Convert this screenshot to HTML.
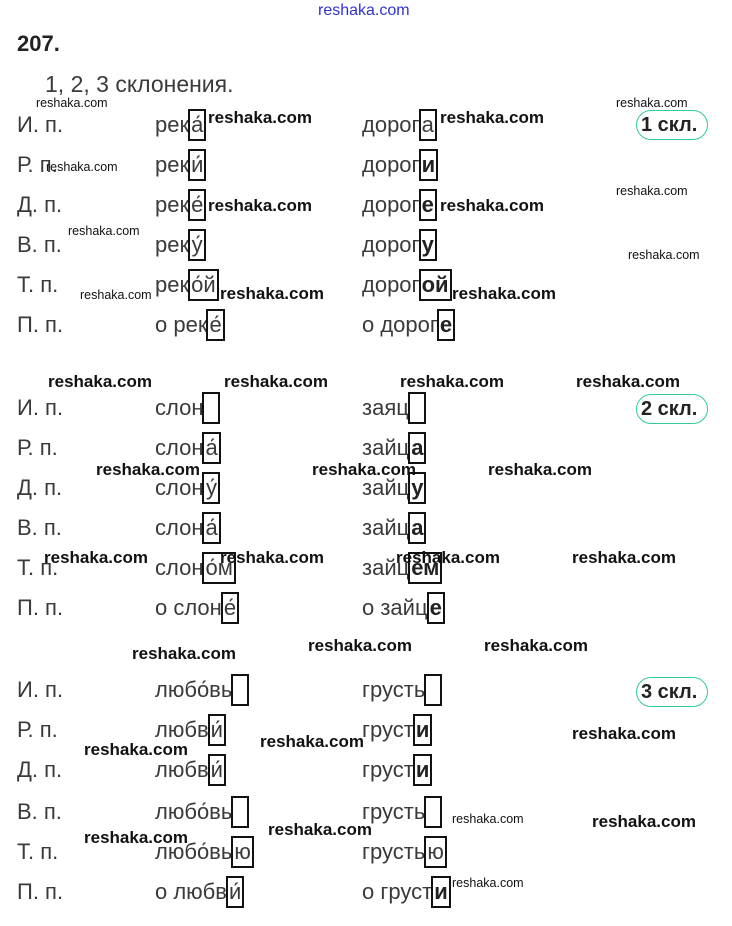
<!DOCTYPE html>
<html><head><meta charset="utf-8"><style>
body{margin:0;width:732px;height:926px;background:#fff;position:relative;overflow:hidden;font-family:"Liberation Sans",sans-serif;}
.a{position:absolute;white-space:nowrap}
.r{position:absolute;height:32px;line-height:32px;font-size:22px;color:#3a3a3a;white-space:nowrap}
.b{display:inline-block;border:2px solid #111;height:28px;line-height:28px;min-width:12px;text-align:center;vertical-align:top;margin-left:-1px;padding:0 1px;color:#3a3a3a}
.k{font-weight:bold;color:#222}
.w{position:absolute;font-weight:bold;font-size:17px;color:#111;white-space:nowrap;line-height:20px}
.s{position:absolute;font-size:12.5px;color:#111;white-space:nowrap;line-height:16px}
.badge{position:absolute;border:1.5px solid #3c9;border-radius:16px;font-weight:bold;font-size:20px;color:#222;line-height:28px;height:28px;padding:0 10px 0 4px}
</style></head><body>
<div class="a" style="left:318px;top:2px;font-size:16px;color:#33c">reshaka.com</div>
<div class="a" style="left:17px;top:31px;font-size:22px;font-weight:bold;color:#222">207.</div>
<div class="a" style="left:45px;top:71px;font-size:23px;color:#3a3a3a">1, 2, 3 склонения.</div>

<!-- block 1 -->
<div class="r" style="left:17px;top:109px">И. п.</div>
<div class="r" style="left:155px;top:109px">рек<span class="b">а́</span></div>
<div class="r" style="left:362px;top:109px">дорог<span class="b">а</span></div>
<div class="r" style="left:17px;top:149px">Р. п.</div>
<div class="r" style="left:155px;top:149px">рек<span class="b">и́</span></div>
<div class="r" style="left:362px;top:149px">дорог<span class="b k">и</span></div>
<div class="r" style="left:17px;top:189px">Д. п.</div>
<div class="r" style="left:155px;top:189px">рек<span class="b">е́</span></div>
<div class="r" style="left:362px;top:189px">дорог<span class="b k">е</span></div>
<div class="r" style="left:17px;top:229px">В. п.</div>
<div class="r" style="left:155px;top:229px">рек<span class="b">у́</span></div>
<div class="r" style="left:362px;top:229px">дорог<span class="b k">у</span></div>
<div class="r" style="left:17px;top:269px">Т. п.</div>
<div class="r" style="left:155px;top:269px">рек<span class="b">о́й</span></div>
<div class="r" style="left:362px;top:269px">дорог<span class="b k">ой</span></div>
<div class="r" style="left:17px;top:309px">П. п.</div>
<div class="r" style="left:155px;top:309px">о рек<span class="b">е́</span></div>
<div class="r" style="left:362px;top:309px">о дорог<span class="b k">е</span></div>
<div class="badge" style="left:636px;top:110px">1 скл.</div>

<!-- block 2 -->
<div class="r" style="left:17px;top:392px">И. п.</div>
<div class="r" style="left:155px;top:392px">слон<span class="b">&nbsp;</span></div>
<div class="r" style="left:362px;top:392px">заяц<span class="b">&nbsp;</span></div>
<div class="r" style="left:17px;top:432px">Р. п.</div>
<div class="r" style="left:155px;top:432px">слон<span class="b">а́</span></div>
<div class="r" style="left:362px;top:432px">зайц<span class="b k">а</span></div>
<div class="r" style="left:17px;top:472px">Д. п.</div>
<div class="r" style="left:155px;top:472px">слон<span class="b">у́</span></div>
<div class="r" style="left:362px;top:472px">зайц<span class="b k">у</span></div>
<div class="r" style="left:17px;top:512px">В. п.</div>
<div class="r" style="left:155px;top:512px">слон<span class="b">а́</span></div>
<div class="r" style="left:362px;top:512px">зайц<span class="b k">а</span></div>
<div class="r" style="left:17px;top:552px">Т. п.</div>
<div class="r" style="left:155px;top:552px">слон<span class="b">о́м</span></div>
<div class="r" style="left:362px;top:552px">зайц<span class="b k">ем</span></div>
<div class="r" style="left:17px;top:592px">П. п.</div>
<div class="r" style="left:155px;top:592px">о слон<span class="b">е́</span></div>
<div class="r" style="left:362px;top:592px">о зайц<span class="b k">е</span></div>
<div class="badge" style="left:636px;top:394px">2 скл.</div>

<!-- block 3 -->
<div class="r" style="left:17px;top:674px">И. п.</div>
<div class="r" style="left:155px;top:674px">любо́вь<span class="b">&nbsp;</span></div>
<div class="r" style="left:362px;top:674px">грусть<span class="b">&nbsp;</span></div>
<div class="r" style="left:17px;top:714px">Р. п.</div>
<div class="r" style="left:155px;top:714px">любв<span class="b">и́</span></div>
<div class="r" style="left:362px;top:714px">груст<span class="b k">и</span></div>
<div class="r" style="left:17px;top:754px">Д. п.</div>
<div class="r" style="left:155px;top:754px">любв<span class="b">и́</span></div>
<div class="r" style="left:362px;top:754px">груст<span class="b k">и</span></div>
<div class="r" style="left:17px;top:796px">В. п.</div>
<div class="r" style="left:155px;top:796px">любо́вь<span class="b">&nbsp;</span></div>
<div class="r" style="left:362px;top:796px">грусть<span class="b">&nbsp;</span></div>
<div class="r" style="left:17px;top:836px">Т. п.</div>
<div class="r" style="left:155px;top:836px">любо́вь<span class="b">ю</span></div>
<div class="r" style="left:362px;top:836px">грусть<span class="b">ю</span></div>
<div class="r" style="left:17px;top:876px">П. п.</div>
<div class="r" style="left:155px;top:876px">о любв<span class="b">и́</span></div>
<div class="r" style="left:362px;top:876px">о груст<span class="b k">и</span></div>
<div class="badge" style="left:636px;top:677px">3 скл.</div>

<!-- big watermarks -->
<div class="w" style="left:208px;top:108px">reshaka.com</div>
<div class="w" style="left:440px;top:108px">reshaka.com</div>
<div class="w" style="left:208px;top:196px">reshaka.com</div>
<div class="w" style="left:440px;top:196px">reshaka.com</div>
<div class="w" style="left:220px;top:284px">reshaka.com</div>
<div class="w" style="left:452px;top:284px">reshaka.com</div>
<div class="w" style="left:48px;top:372px">reshaka.com</div>
<div class="w" style="left:224px;top:372px">reshaka.com</div>
<div class="w" style="left:400px;top:372px">reshaka.com</div>
<div class="w" style="left:576px;top:372px">reshaka.com</div>
<div class="w" style="left:96px;top:460px">reshaka.com</div>
<div class="w" style="left:312px;top:460px">reshaka.com</div>
<div class="w" style="left:488px;top:460px">reshaka.com</div>
<div class="w" style="left:44px;top:548px">reshaka.com</div>
<div class="w" style="left:220px;top:548px">reshaka.com</div>
<div class="w" style="left:396px;top:548px">reshaka.com</div>
<div class="w" style="left:572px;top:548px">reshaka.com</div>
<div class="w" style="left:308px;top:636px">reshaka.com</div>
<div class="w" style="left:484px;top:636px">reshaka.com</div>
<div class="w" style="left:132px;top:644px">reshaka.com</div>
<div class="w" style="left:260px;top:732px">reshaka.com</div>
<div class="w" style="left:572px;top:724px">reshaka.com</div>
<div class="w" style="left:84px;top:740px">reshaka.com</div>
<div class="w" style="left:268px;top:820px">reshaka.com</div>
<div class="w" style="left:592px;top:812px">reshaka.com</div>
<div class="w" style="left:84px;top:828px">reshaka.com</div>

<!-- small watermarks -->
<div class="s" style="left:36px;top:95px">reshaka.com</div>
<div class="s" style="left:46px;top:159px">reshaka.com</div>
<div class="s" style="left:616px;top:95px">reshaka.com</div>
<div class="s" style="left:616px;top:183px">reshaka.com</div>
<div class="s" style="left:68px;top:223px">reshaka.com</div>
<div class="s" style="left:628px;top:247px">reshaka.com</div>
<div class="s" style="left:80px;top:287px">reshaka.com</div>
<div class="s" style="left:452px;top:811px">reshaka.com</div>
<div class="s" style="left:452px;top:875px">reshaka.com</div>
</body></html>
